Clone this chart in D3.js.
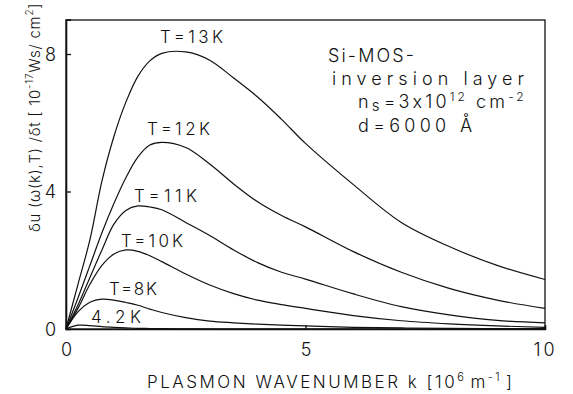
<!DOCTYPE html>
<html><head><meta charset="utf-8">
<script src="https://cdn.jsdelivr.net/npm/d3@7"></script>
<style>body{margin:0;background:#fff}svg{display:block}text{font-family:"Inter","DejaVu Sans",sans-serif;font-weight:300;fill:#111}</style>
</head><body><svg id="c" width="573" height="394"></svg>
<script>
// Data
const kValues = [0,0.25,0.5,0.75,1,1.25,1.5,1.75,2,2.5,3,3.5,4,4.5,5,6,7,8,9,10];
const u13K = [0,1.3,2.6,4.3,5.6,6.6,7.35,7.8,8.02,8.06,7.82,7.3,6.75,6.1,5.4,4.2,3.1,2.4,1.85,1.44];
const u12K = [0,0.9,1.85,2.8,3.65,4.4,5.0,5.35,5.43,5.28,4.8,4.22,3.7,3.3,2.97,2.25,1.65,1.18,0.84,0.6];
const u11K = [0,0.7,1.5,2.3,3.05,3.45,3.58,3.55,3.47,3.1,2.72,2.3,1.93,1.65,1.45,1.02,0.65,0.41,0.25,0.18];
const u10K = [0,0.6,1.3,1.85,2.18,2.3,2.26,2.13,1.96,1.6,1.28,1.03,0.84,0.71,0.6,0.39,0.24,0.15,0.09,0.05];
const u8K  = [0,0.5,0.78,0.87,0.84,0.77,0.69,0.58,0.48,0.33,0.23,0.18,0.14,0.11,0.09,0.05,0.03,0.02,0.01,0.01];
const u42K = [0,0.11,0.1,0.07,0.05,0.035,0.02,0.015,0.01,0.005,0,0,0,0,0,0,0,0,0,0];
const seriesLabels = ["T=13K","T=12K","T=11K","T=10K","T=8K","4.2K"];
const xTicks = [0,5,10];
const yTicks = [0,4,8];

const series = [u13K,u12K,u11K,u10K,u8K,u42K];
const svg = d3.select("#c");
const L=66, R=545, T=20, B=329;
const x = d3.scaleLinear().domain([0,10]).range([L,R]);
const y = d3.scaleLinear().domain([0,9]).range([B,B-9*34.375]);

// frame
svg.append("rect").attr("x",L).attr("y",T).attr("width",R-L).attr("height",B-T)
  .attr("fill","none").attr("stroke","#111").attr("stroke-width",1.3);

// axes with inward ticks
const gx = svg.append("g").attr("transform",`translate(0,${B})`)
  .call(d3.axisBottom(x).tickValues(xTicks).tickSize(-4).tickPadding(12).tickFormat(d3.format("d")));
const gy = svg.append("g").attr("transform",`translate(${L},0)`)
  .call(d3.axisLeft(y).tickValues(yTicks).tickSize(-5).tickPadding(10).tickFormat(d3.format("d")));
[gx,gy].forEach(g=>{
  g.select(".domain").attr("stroke","#111").attr("stroke-width",1.6);
  g.selectAll(".tick line").attr("stroke","#111").attr("stroke-width",1.3);
  g.selectAll(".tick text").style("font-family","Inter, DejaVu Sans, sans-serif").style("font-size","18px").attr("fill","#111").style("font-weight","300");
});
gx.selectAll(".tick text").attr("dy","0.85em");
gx.selectAll(".tick").filter(d=>d===10).select("text").style("letter-spacing","3px");
gy.selectAll(".tick text").attr("dy","0.36em");
gx.selectAll(".tick").filter(d=>d===0||d===10).select("line").remove();
gy.selectAll(".tick").filter(d=>d===0).select("line").remove();

// curves
const line = d3.line().x((d,i)=>x(kValues[i])).y(d=>y(d)).curve(d3.curveCatmullRom.alpha(0.5));
series.forEach(s=>{
  svg.append("path").datum(s).attr("d",line).attr("fill","none")
    .attr("stroke","#111").attr("stroke-width",1.2);
});

// curve labels [x, baseline, width]
const labelPos = [[160,43,63],[147,135,63],[134,202,63],[121,247,62],[109,295,48],[91,323,50]];
seriesLabels.forEach((t,i)=>{
  svg.append("text").attr("x",labelPos[i][0]).attr("y",labelPos[i][1])
    .attr("textLength",labelPos[i][2]).attr("lengthAdjust","spacing")
    .style("font-size","17px").text(t);
});

function fitWidth(sel, target){
  const n = sel.text().length;
  const w = sel.node().getComputedTextLength();
  sel.style("letter-spacing", ((target - w)/n) + "px");
}

// annotation
const ann = svg.append("g").style("font-size","18px");
ann.append("text").attr("x",328).attr("y",62).attr("textLength",86).attr("lengthAdjust","spacing").text("Si-MOS-");
ann.append("text").attr("x",332).attr("y",85).attr("textLength",192).attr("lengthAdjust","spacing").text("inversion layer");
const ns = ann.append("text").attr("x",358).attr("y",108);
ns.append("tspan").text("n");
ns.append("tspan").attr("dy",3).style("font-size","15px").text("s");
ns.append("tspan").attr("dy",-3).attr("dx",1).text("=3x10");
ns.append("tspan").attr("dy",-7).style("font-size","12px").text("12");
ns.append("tspan").attr("dy",7).attr("dx",8).text("cm");
ns.append("tspan").attr("dy",-7).style("font-size","12px").text("-2");
fitWidth(ns, 162);
ann.append("text").attr("x",358).attr("y",132).attr("textLength",114).attr("lengthAdjust","spacing").text("d=6000 Å");

// x-axis title
const xt = svg.append("text").attr("x",147).attr("y",388).style("font-size","17px");
xt.append("tspan").text("PLASMON WAVENUMBER k  [10");
xt.append("tspan").attr("dy",-7).style("font-size","11px").text("6");
xt.append("tspan").attr("dy",7).attr("dx",4).text("m");
xt.append("tspan").attr("dy",-7).style("font-size","11px").text("-1");
xt.append("tspan").attr("dy",7).attr("dx",4).text("]");
fitWidth(xt, 362);

// y-axis title
const yt = svg.append("text").attr("transform","translate(40,232) rotate(-90)").style("font-size","15px");
yt.append("tspan").text("δu (ω(k),T) /δt  [ 10");
yt.append("tspan").attr("dy",-7).style("font-size","10px").text("-17");
yt.append("tspan").attr("dy",7).text("Ws/ cm");
yt.append("tspan").attr("dy",-7).style("font-size","10px").text("2");
yt.append("tspan").attr("dy",7).text("]");
fitWidth(yt, 230);
</script></body></html>
